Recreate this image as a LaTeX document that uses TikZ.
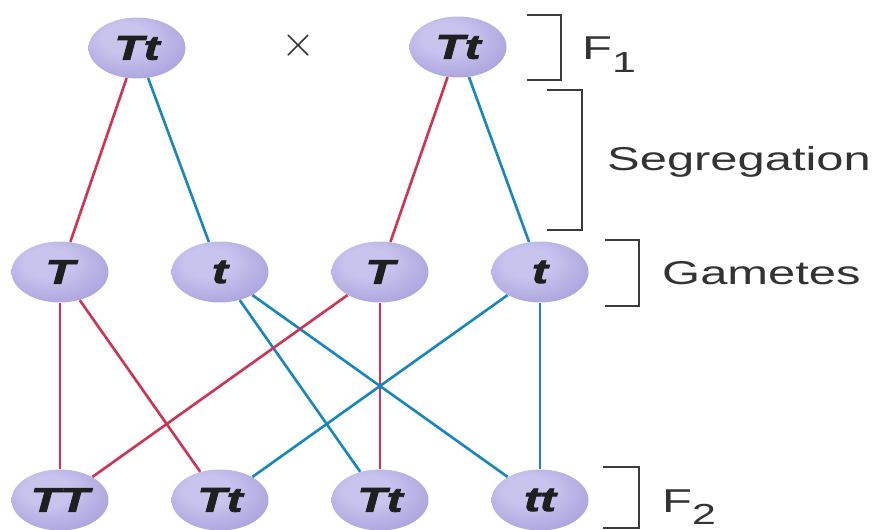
\documentclass[tikz,border=0pt]{standalone}
\usepackage{fontspec}
\usepackage{xcolor}
\usepackage{tikz}
\usetikzlibrary{shapes.geometric}
\newfontfamily\lblfont[FakeStretch=1.48]{Liberation Sans}
\newfontfamily\ballfont[FakeStretch=1.4,FakeBold=2.5]{Liberation Sans}
\definecolor{allelered}{RGB}{205,52,86}
\definecolor{alleleblue}{RGB}{25,135,190}
\definecolor{bracketgray}{RGB}{60,60,60}
\definecolor{ballhi}{RGB}{200,196,238}
\definecolor{ballmid}{RGB}{172,164,222}
\definecolor{ballout}{RGB}{128,116,190}
\pgfdeclareradialshading{gameteball}{\pgfpoint{-8bp}{10bp}}{%
  color(0bp)=(ballhi); color(12bp)=(ballhi); color(32bp)=(ballmid); color(58bp)=(ballout)}

\begin{document}
\begin{tikzpicture}[
  x=0.02cm, y=-0.02cm,
  ball/.style={ellipse, shading=gameteball, inner sep=0pt, minimum width=1.94cm, minimum height=1.22cm,
    font=\ballfont\bfseries\itshape\fontsize{19.5}{22}\selectfont, text=black!88},
  lbl/.style={anchor=base west, font=\lblfont\fontsize{18.8}{22}\selectfont, text=black!80},
  redline/.style={allelered, line width=1.5pt},
  blueline/.style={alleleblue, line width=1.5pt},
  brk/.style={bracketgray, line width=1.1pt}
]
\useasboundingbox (0,0) rectangle (878,530);

% parents
\node[ball] (p1) at (137,48) {Tt};
\node[ball] (p2) at (458,47) {Tt};
\node[font=\fontsize{28}{28}\selectfont, text=black!80] (cross) at (298,46) {$\times$};

% gametes
\node[ball] (g1) at (60,272) {T};
\node[ball] (g2) at (220,272) {t};
\node[ball] (g3) at (380,272) {T};
\node[ball] (g4) at (540,272) {t};

% offspring
\node[ball] (o1) at (60,500) {TT};
\node[ball] (o2) at (220,500) {Tt};
\node[ball] (o3) at (380,500) {Tt};
\node[ball] (o4) at (540,500) {tt};

\draw[redline] (p1) -- (g1);
\draw[blueline] (p1) -- (g2);
\draw[redline] (p2) -- (g3);
\draw[blueline] (p2) -- (g4);

\draw[redline] (g1) -- (o1);
\draw[redline] (g1) -- (o2);
\draw[blueline] (g2) -- (o3);
\draw[blueline] (g2) -- (o4);
\draw[redline] (g3) -- (o1);
\draw[redline] (g3) -- (o3);
\draw[blueline] (g4) -- (o2);
\draw[blueline] (g4) -- (o4);

% brackets and labels
\draw[brk] (527,15) -- (561,15) -- (561,80) -- (527,80);
\draw[brk] (547,90) -- (582,90) -- (582,230) -- (547,230);
\draw[brk] (605,240) -- (639,240) -- (639,306) -- (605,306);
\draw[brk] (603,467) -- (639,467) -- (639,528) -- (603,528);

\node[lbl] (f1) at (576,60) {F\raisebox{-7pt}{\fontsize{16.5}{16}\selectfont 1}};
\node[lbl] (seg) at (601,171) {Segregation};
\node[lbl] (gam) at (656,284) {Gametes};
\node[lbl] (f2) at (656,512) {F\raisebox{-7pt}{\fontsize{16.5}{16}\selectfont 2}};
\end{tikzpicture}
\end{document}
